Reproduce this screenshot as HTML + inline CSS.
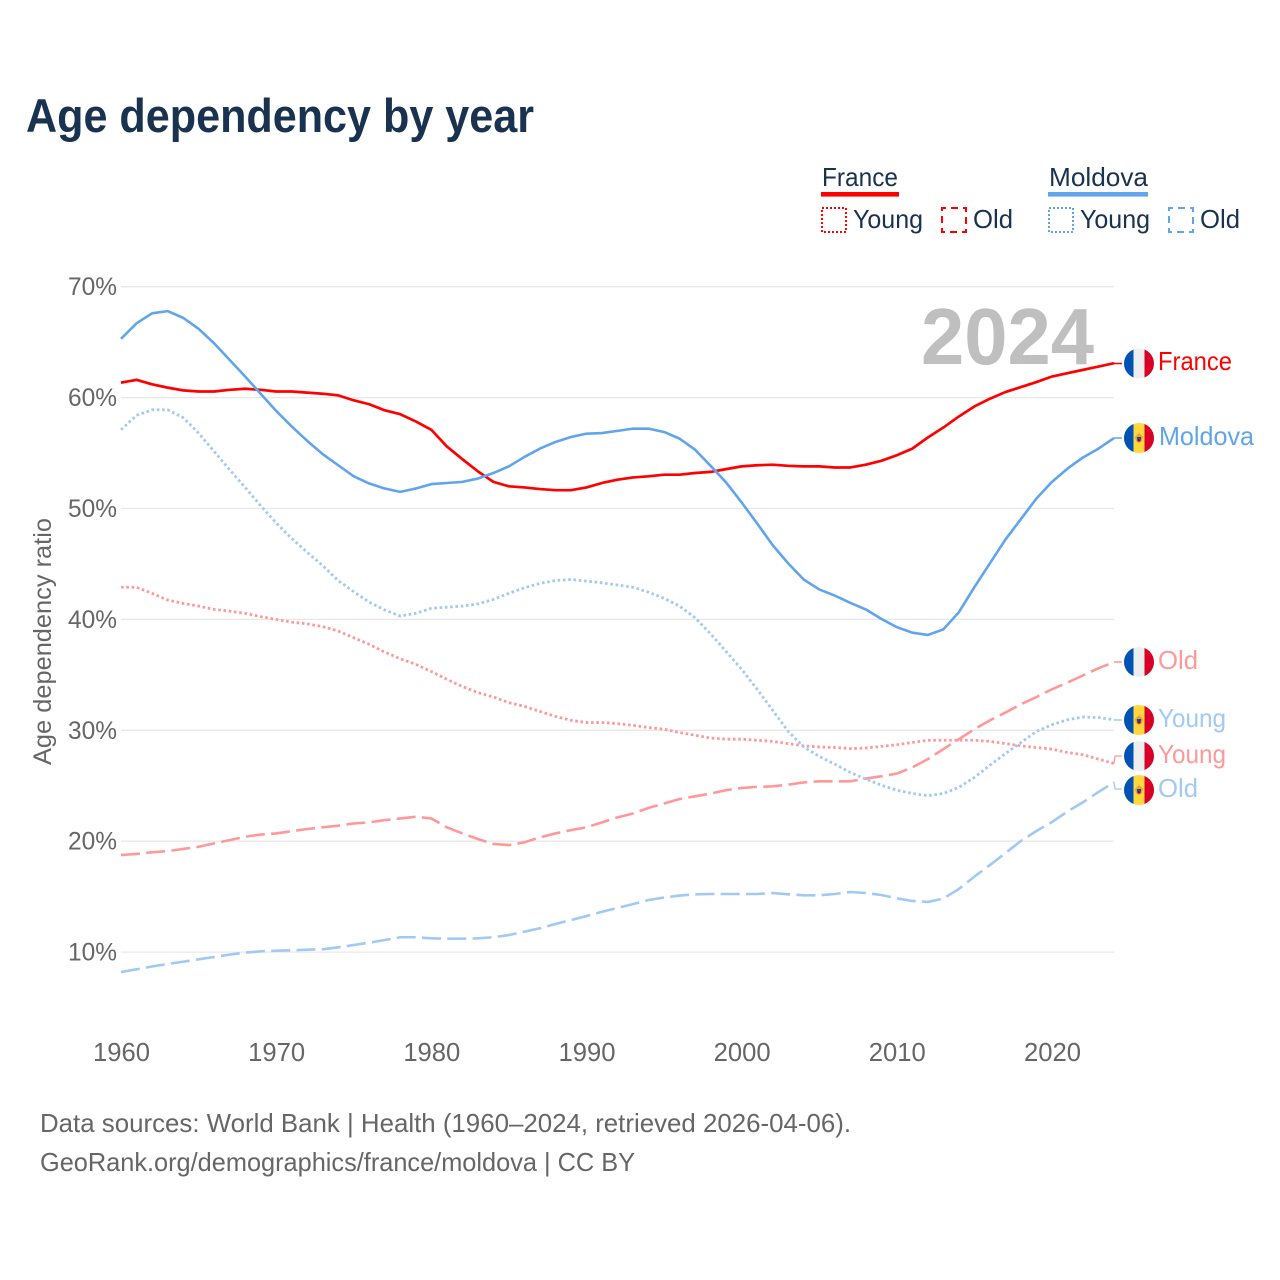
<!DOCTYPE html>
<html lang="en">
<head>
<meta charset="utf-8">
<title>Age dependency by year</title>
<style>
html,body{margin:0;padding:0;background:#fff;}
svg{display:block;font-family:"Liberation Sans",sans-serif;}
</style>
</head>
<body>
<svg id="chart" xmlns="http://www.w3.org/2000/svg" width="1280" height="1280" viewBox="0 0 1280 1280">
  <defs>
    <clipPath id="flag-clip"><circle cx="0" cy="0" r="15"/></clipPath>
  </defs>
  <rect x="0" y="0" width="1280" height="1280" fill="#ffffff"/>
  <text x="26" y="132" font-size="47" font-weight="700" fill="#18324f" textLength="508" lengthAdjust="spacingAndGlyphs">Age dependency by year</text>

  <g>
    <text x="822" y="186" font-size="26" fill="#18324f" textLength="76" lengthAdjust="spacingAndGlyphs">France</text>
    <rect x="821" y="192" width="78" height="4.6" fill="#ff0000"/>
    <rect x="822" y="208" width="24" height="24" fill="none" stroke="#ff0000" stroke-width="2" stroke-dasharray="2 2"/>
    <text x="853" y="228" font-size="26" fill="#18324f" textLength="70" lengthAdjust="spacingAndGlyphs">Young</text>
    <rect x="942" y="208" width="24" height="24" fill="none" stroke="#ff0000" stroke-width="2" stroke-dasharray="7 5" stroke-dashoffset="3"/>
    <text x="973" y="228" font-size="26" fill="#18324f" textLength="40" lengthAdjust="spacingAndGlyphs">Old</text>
    <text x="1049" y="186" font-size="26" fill="#18324f" textLength="99" lengthAdjust="spacingAndGlyphs">Moldova</text>
    <rect x="1048" y="192" width="100" height="4.6" fill="#60a5ec"/>
    <rect x="1049" y="208" width="24" height="24" fill="none" stroke="#60a5ec" stroke-width="2" stroke-dasharray="2 2"/>
    <text x="1080" y="228" font-size="26" fill="#18324f" textLength="70" lengthAdjust="spacingAndGlyphs">Young</text>
    <rect x="1169" y="208" width="24" height="24" fill="none" stroke="#60a5ec" stroke-width="2" stroke-dasharray="7 5" stroke-dashoffset="3"/>
    <text x="1200" y="228" font-size="26" fill="#18324f" textLength="40" lengthAdjust="spacingAndGlyphs">Old</text>
  </g>

  <g id="grid"></g>
  <g id="ytick-labels"></g>
  <g id="xtick-labels"></g>
  <text x="0" y="0" transform="translate(51,641.5) rotate(-90)" text-anchor="middle" font-size="25" fill="#666666" textLength="247" lengthAdjust="spacingAndGlyphs">Age dependency ratio</text>
  <text x="921" y="364" font-size="80" font-weight="700" fill="#bfbfbf" textLength="173" lengthAdjust="spacingAndGlyphs">2024</text>

  <g id="series"></g>
  <g id="flags"></g>

  <g>
    <text x="1158" y="370" font-size="26" fill="#ff0000" textLength="74" lengthAdjust="spacingAndGlyphs">France</text>
    <text x="1159" y="445" font-size="26" fill="#60a5ec" textLength="95" lengthAdjust="spacingAndGlyphs">Moldova</text>
    <text x="1158" y="669" font-size="26" fill="#ff9999" textLength="40" lengthAdjust="spacingAndGlyphs">Old</text>
    <text x="1158" y="727" font-size="26" fill="#a0c9f4" textLength="68" lengthAdjust="spacingAndGlyphs">Young</text>
    <text x="1158" y="763" font-size="26" fill="#ff9999" textLength="68" lengthAdjust="spacingAndGlyphs">Young</text>
    <text x="1158" y="797" font-size="26" fill="#a0c9f4" textLength="40" lengthAdjust="spacingAndGlyphs">Old</text>
  </g>

  <text x="40" y="1132" font-size="26" fill="#666666" textLength="811" lengthAdjust="spacingAndGlyphs">Data sources: World Bank | Health (1960–2024, retrieved 2026-04-06).</text>
  <text x="40" y="1171" font-size="26" fill="#666666" textLength="595" lengthAdjust="spacingAndGlyphs">GeoRank.org/demographics/france/moldova | CC BY</text>
</svg>
<script>
var startYear = 1960;
var xTickYears = [1960, 1970, 1980, 1990, 2000, 2010, 2020];
var yTickValues = [10, 20, 30, 40, 50, 60, 70];

var franceTotal = [
  61.35,61.6,61.2,60.9,60.65,60.55,60.55,60.7,60.8,60.7,
  60.55,60.55,60.45,60.35,60.2,59.75,59.4,58.85,58.5,57.85,
  57.1,55.6,54.45,53.35,52.4,52.0,51.9,51.75,51.65,51.65,
  51.9,52.3,52.6,52.8,52.9,53.05,53.05,53.2,53.3,53.55,
  53.8,53.9,53.95,53.85,53.8,53.8,53.7,53.7,53.95,54.3,
  54.8,55.4,56.4,57.3,58.3,59.2,59.9,60.5,60.95,61.4,
  61.9,62.2,62.5,62.8,63.1];
var moldovaTotal = [
  65.3,66.7,67.6,67.8,67.2,66.2,64.9,63.4,61.9,60.35,
  58.8,57.4,56.1,54.9,53.9,52.9,52.25,51.8,51.5,51.8,
  52.2,52.3,52.4,52.7,53.2,53.8,54.65,55.4,56.0,56.45,
  56.75,56.8,57.0,57.2,57.2,56.9,56.3,55.3,53.85,52.35,
  50.55,48.65,46.7,45.05,43.6,42.7,42.15,41.5,40.9,40.05,
  39.3,38.8,38.6,39.1,40.65,42.9,45.06,47.2,49.05,50.9,
  52.4,53.6,54.6,55.4,56.35];
var moldovaYoung = [
  57.1,58.4,58.9,58.9,58.2,56.8,55.15,53.5,51.9,50.25,
  48.7,47.3,46.05,44.85,43.5,42.5,41.55,40.85,40.3,40.55,
  41.0,41.1,41.2,41.4,41.8,42.35,42.85,43.25,43.5,43.6,
  43.45,43.3,43.1,42.9,42.45,41.9,41.2,40.15,38.7,37.1,
  35.5,33.7,31.8,29.9,28.5,27.65,26.95,26.2,25.6,25.05,
  24.6,24.3,24.1,24.3,24.85,25.75,26.85,27.9,28.9,29.9,
  30.5,30.95,31.2,31.15,30.95];
var franceYoung = [
  42.9,42.9,42.35,41.75,41.45,41.2,40.9,40.75,40.55,40.25,
  40.0,39.75,39.6,39.35,38.95,38.35,37.75,37.05,36.45,35.95,
  35.3,34.6,33.95,33.4,33.0,32.5,32.15,31.7,31.25,30.9,
  30.7,30.7,30.6,30.45,30.25,30.1,29.8,29.55,29.3,29.2,
  29.2,29.1,29.0,28.8,28.6,28.5,28.45,28.35,28.4,28.55,
  28.7,28.9,29.1,29.1,29.1,29.1,29.0,28.8,28.6,28.45,
  28.3,28.0,27.8,27.4,27.0];
var franceOld = [
  18.75,18.85,19.0,19.1,19.3,19.5,19.8,20.1,20.4,20.6,
  20.7,20.9,21.1,21.25,21.4,21.6,21.7,21.9,22.05,22.2,
  22.05,21.25,20.7,20.2,19.75,19.65,19.9,20.35,20.7,21.0,
  21.25,21.7,22.15,22.5,23.0,23.4,23.8,24.05,24.3,24.6,
  24.8,24.9,24.95,25.1,25.3,25.4,25.4,25.4,25.65,25.85,
  26.1,26.65,27.4,28.3,29.2,30.1,30.9,31.6,32.35,33.0,
  33.7,34.3,34.95,35.6,36.15];
var moldovaOld = [
  8.2,8.45,8.7,8.93,9.13,9.35,9.56,9.77,9.95,10.07,
  10.13,10.16,10.22,10.25,10.43,10.64,10.85,11.09,11.34,11.34,
  11.24,11.21,11.21,11.24,11.34,11.54,11.84,12.15,12.53,12.89,
  13.25,13.64,13.98,14.33,14.7,14.92,15.1,15.21,15.24,15.24,
  15.24,15.24,15.33,15.21,15.12,15.12,15.24,15.42,15.33,15.15,
  14.85,14.61,14.52,14.83,15.69,16.81,17.85,18.93,20.02,20.92,
  21.73,22.68,23.51,24.44,25.31];

var NS = 'http://www.w3.org/2000/svg';
function xScale(year) { return 121 + (year - 1960) * 15.516; }
function yScale(value) { return 286.7 + (70 - value) * 11.09; }
function make(tag, parent, attrs) {
  var el = document.createElementNS(NS, tag);
  for (var k in attrs) { el.setAttribute(k, attrs[k]); }
  parent.appendChild(el);
  return el;
}

var gridGroup = document.getElementById('grid');
var yLabelGroup = document.getElementById('ytick-labels');
yTickValues.forEach(function (v) {
  var line = make('line', gridGroup, {x1: 121, x2: 1114, y1: yScale(v), y2: yScale(v), stroke: '#e8e8e8', 'stroke-width': 1.3});
  
  
  var label = make('text', yLabelGroup, {x: 117, y: yScale(v) + 8.5, 'text-anchor': 'end', 'font-size': 25, fill: '#666666', textLength: 49, lengthAdjust: 'spacingAndGlyphs'});
  
  
  label.textContent = v + '%';
});

var xLabelGroup = document.getElementById('xtick-labels');
xTickYears.forEach(function (year) {
  var label = make('text', xLabelGroup, {x: xScale(year) + 0.5, y: 1061, 'text-anchor': 'middle', 'font-size': 26, fill: '#666666', textLength: 57, lengthAdjust: 'spacingAndGlyphs'});
  
  
  label.textContent = String(year);
});

var seriesGroup = document.getElementById('series');
function drawSeries(name, values, color, width, dash, leaderY, leaderWidth) {
  var pts = values.map(function (v, i) {
    return xScale(startYear + i).toFixed(2) + ',' + yScale(v).toFixed(2);
  }).join(' ');
  var attrs = {points: pts, fill: 'none', stroke: color, 'stroke-width': width, 'stroke-linejoin': 'round'};
  if (dash) { attrs['stroke-dasharray'] = dash; }
  var line = make('polyline', seriesGroup, attrs);
  
  
  var endX = xScale(startYear + values.length - 1);
  var endY = yScale(values[values.length - 1]);
  var leaderPts = endX + ',' + endY + ' ' + (endX + 1) + ',' + leaderY + ' 1122,' + leaderY;
  var leader = make('polyline', seriesGroup, {points: leaderPts, fill: 'none', stroke: color, 'stroke-width': leaderWidth});
  
  
}
drawSeries('france-old', franceOld, '#ff9999', 2.6, '19 6.3', 662, 1.6);
drawSeries('france-young', franceYoung, '#ff9999', 2.8, '2.6 2.7', 756, 1.3);
drawSeries('moldova-old', moldovaOld, '#a0c9f4', 2.6, '19 6.3', 789, 1.3);
drawSeries('moldova-young', moldovaYoung, '#a0c9f4', 2.8, '2.6 2.7', 720, 1.6);
drawSeries('france-total', franceTotal, '#ff0000', 2.7, null, 363.5, 1.6);
drawSeries('moldova-total', moldovaTotal, '#60a5ec', 2.6, null, 438, 1.6);

var flagsGroup = document.getElementById('flags');
function drawFlag(name, country, cy) {
  var g = make('g', flagsGroup, {transform: 'translate(1139,' + cy + ')'});
  
  
  var clip = make('g', g, {'clip-path': 'url(#flag-clip)'});
  var mid = country === 'france' ? '#eeeeee' : '#ffd83f';
  make('rect', clip, {x: -15, y: -15, width: 30, height: 30, fill: mid});
  make('rect', clip, {x: -15, y: -15, width: 9.5, height: 30, fill: '#0052b4'});
  make('rect', clip, {x: 5.5, y: -15, width: 9.5, height: 30, fill: '#d80027'});
  if (country === 'moldova') {
    make('path', clip, {d: 'M0,-5 L4,-1 L3,3 L0,5 L-3,3 L-4,-1 Z', fill: '#f0a030'});
    make('rect', clip, {x: -2, y: -1, width: 4, height: 2.5, fill: '#0052b4'});
    make('rect', clip, {x: -1.5, y: 1.5, width: 3, height: 2, fill: '#a2001d'});
  }
}
drawFlag('flag-france-total', 'france', 363.5);
drawFlag('flag-moldova-total', 'moldova', 438);
drawFlag('flag-france-old', 'france', 662);
drawFlag('flag-moldova-young', 'moldova', 720);
drawFlag('flag-france-young', 'france', 756);
drawFlag('flag-moldova-old', 'moldova', 790);
</script>
</body>
</html>
